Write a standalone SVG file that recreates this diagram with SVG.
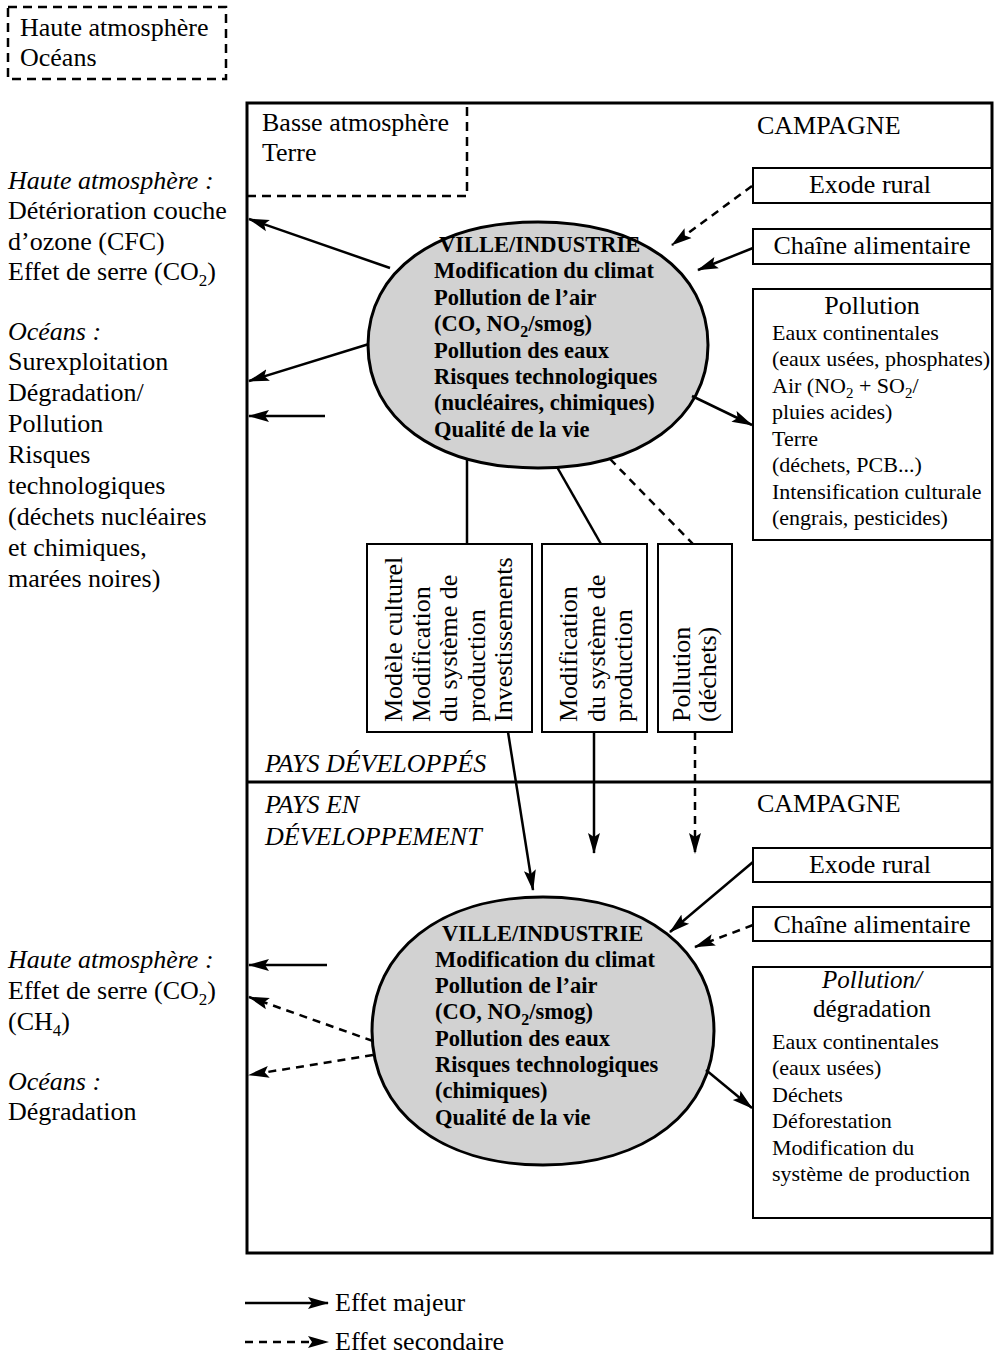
<svg xmlns="http://www.w3.org/2000/svg" width="996" height="1355" viewBox="0 0 996 1355">
<style>
text { font-family: "Liberation Serif", "Times New Roman", serif; fill: #000; }
.t26 { font-size: 26px; }
.t22 { font-size: 22px; }
.it { font-style: italic; }
.mid { text-anchor: middle; }
.el { font-size: 22.5px; font-weight: bold; }
.sub { font-size: 17px; }
.box { fill: #fff; stroke: #000; stroke-width: 2; }
.frame { fill: none; stroke: #000; stroke-width: 3; }
.dbox { fill: none; stroke: #000; stroke-width: 2.5; stroke-dasharray: 9 6; }
.ell { fill: #d2d2d2; stroke: #000; stroke-width: 3; }
.c { fill: none; stroke: #000; stroke-width: 2.5; }
.cd { stroke-dasharray: 8 6; }
</style>
<defs>
<marker id="ah" markerWidth="22" markerHeight="14" refX="20" refY="7" orient="auto" markerUnits="userSpaceOnUse">
<path d="M0,1 L21,7 L0,13 L4,7 z" fill="#000"/>
</marker>
</defs>

<g id="frame">
<rect class="frame" x="247" y="103" width="745" height="1150"/>
<line x1="247" y1="782" x2="992" y2="782" stroke="#000" stroke-width="3"/>
</g>

<g id="legend-haute-oceans">
<rect class="dbox" x="8" y="7" width="218" height="72"/>
<text class="t26" x="20" y="36">Haute atmosphère</text>
<text class="t26" x="20" y="66">Océans</text>
</g>

<g id="legend-basse-terre">
<path class="dbox" d="M247,196 H467 V103"/>
<text class="t26" x="262" y="131">Basse atmosphère</text>
<text class="t26" x="262" y="161">Terre</text>
</g>

<g id="label-campagne-top"><text class="t26" x="757" y="134">CAMPAGNE</text></g>
<g id="label-campagne-bottom"><text class="t26" x="757" y="812">CAMPAGNE</text></g>
<g id="label-pays-dev"><text class="t26 it" x="265" y="772">PAYS DÉVELOPPÉS</text></g>
<g id="label-pays-en-dev">
<text class="t26 it" x="265" y="813">PAYS EN</text>
<text class="t26 it" x="265" y="845">DÉVELOPPEMENT</text>
</g>

<g id="left-top-text">
<text class="t26 it" x="8" y="189">Haute atmosphère :</text>
<text class="t26" x="8" y="219">Détérioration couche</text>
<text class="t26" x="8" y="250">d’ozone (CFC)</text>
<text class="t26" x="8" y="280">Effet de serre (CO<tspan class="sub" dy="6">2</tspan><tspan dy="-6">)</tspan></text>
<text class="t26 it" x="8" y="340">Océans :</text>
<text class="t26" x="8" y="370">Surexploitation</text>
<text class="t26" x="8" y="401">Dégradation/</text>
<text class="t26" x="8" y="432">Pollution</text>
<text class="t26" x="8" y="463">Risques</text>
<text class="t26" x="8" y="494">technologiques</text>
<text class="t26" x="8" y="525">(déchets nucléaires</text>
<text class="t26" x="8" y="556">et chimiques,</text>
<text class="t26" x="8" y="587">marées noires)</text>
</g>

<g id="left-bottom-text">
<text class="t26 it" x="8" y="968">Haute atmosphère :</text>
<text class="t26" x="8" y="999">Effet de serre (CO<tspan class="sub" dy="6">2</tspan><tspan dy="-6">)</tspan></text>
<text class="t26" x="8" y="1030">(CH<tspan class="sub" dy="6">4</tspan><tspan dy="-6">)</tspan></text>
<text class="t26 it" x="8" y="1090">Océans :</text>
<text class="t26" x="8" y="1120">Dégradation</text>
</g>

<g id="exode-top">
<rect class="box" x="753" y="168" width="239" height="35"/>
<text class="t26 mid" x="870" y="193">Exode rural</text>
</g>
<g id="chaine-top">
<rect class="box" x="753" y="229" width="239" height="35"/>
<text class="t26 mid" x="872" y="254">Chaîne alimentaire</text>
</g>
<g id="pollution-top">
<rect class="box" x="753" y="289" width="239" height="251"/>
<text class="t26 mid" x="872" y="314">Pollution</text>
<text class="t22" x="772" y="340">Eaux continentales</text>
<text class="t22" x="772" y="366">(eaux usées, phosphates)</text>
<text class="t22" x="772" y="393">Air (NO<tspan font-size="15" dy="5">2</tspan><tspan dy="-5"> + SO</tspan><tspan font-size="15" dy="5">2</tspan><tspan dy="-5">/</tspan></text>
<text class="t22" x="772" y="419">pluies acides)</text>
<text class="t22" x="772" y="446">Terre</text>
<text class="t22" x="772" y="472">(déchets, PCB...)</text>
<text class="t22" x="772" y="499">Intensification culturale</text>
<text class="t22" x="772" y="525">(engrais, pesticides)</text>
</g>

<g id="ville-top">
<path class="ell" d="M368,345 C368,271.2 436,222 538,222 C640,222 708,271.2 708,345 C708,418.8 640,468 538,468 C436,468 368,418.8 368,345 Z"/>
<text class="el" x="439" y="252">VILLE/INDUSTRIE</text>
<text class="el" x="434" y="278">Modification du climat</text>
<text class="el" x="434" y="305">Pollution de l’air</text>
<text class="el" x="434" y="331">(CO, NO<tspan font-size="16" dy="6">2</tspan><tspan dy="-6">/smog)</tspan></text>
<text class="el" x="434" y="358">Pollution des eaux</text>
<text class="el" x="434" y="384">Risques technologiques</text>
<text class="el" x="434" y="410">(nucléaires, chimiques)</text>
<text class="el" x="434" y="437">Qualité de la vie</text>
</g>

<g id="box-modele">
<rect class="box" x="367" y="544" width="165" height="188"/>
<text class="t26" transform="translate(402,722) rotate(-90)">Modèle culturel</text>
<text class="t26" transform="translate(429.5,722) rotate(-90)">Modification</text>
<text class="t26" transform="translate(457,722) rotate(-90)">du système de</text>
<text class="t26" transform="translate(484.5,722) rotate(-90)">production</text>
<text class="t26" transform="translate(512,722) rotate(-90)">Investissements</text>
</g>
<g id="box-modif">
<rect class="box" x="542" y="544" width="105" height="188"/>
<text class="t26" transform="translate(577,722) rotate(-90)">Modification</text>
<text class="t26" transform="translate(604.5,722) rotate(-90)">du système de</text>
<text class="t26" transform="translate(632,722) rotate(-90)">production</text>
</g>
<g id="box-dechets">
<rect class="box" x="658" y="544" width="74" height="188"/>
<text class="t26" transform="translate(690,722) rotate(-90)">Pollution</text>
<text class="t26" transform="translate(716,722) rotate(-90)">(déchets)</text>
</g>

<g id="exode-bottom">
<rect class="box" x="753" y="848" width="239" height="34"/>
<text class="t26 mid" x="870" y="873">Exode rural</text>
</g>
<g id="chaine-bottom">
<rect class="box" x="753" y="907" width="239" height="34"/>
<text class="t26 mid" x="872" y="933">Chaîne alimentaire</text>
</g>
<g id="pollution-bottom">
<rect class="box" x="753" y="967" width="239" height="251"/>
<text class="mid it" style="font-size:25px" x="872" y="988">Pollution/</text>
<text class="mid" style="font-size:25px" x="872" y="1017">dégradation</text>
<text class="t22" x="772" y="1049">Eaux continentales</text>
<text class="t22" x="772" y="1075">(eaux usées)</text>
<text class="t22" x="772" y="1102">Déchets</text>
<text class="t22" x="772" y="1128">Déforestation</text>
<text class="t22" x="772" y="1155">Modification du</text>
<text class="t22" x="772" y="1181">système de production</text>
</g>

<g id="ville-bottom">
<path class="ell" d="M372,1031 C372,950.6 440.4,897 543,897 C645.6,897 714,950.6 714,1031 C714,1111.4 645.6,1165 543,1165 C440.4,1165 372,1111.4 372,1031 Z"/>
<text class="el" x="442" y="941">VILLE/INDUSTRIE</text>
<text class="el" x="435" y="967">Modification du climat</text>
<text class="el" x="435" y="993">Pollution de l’air</text>
<text class="el" x="435" y="1019">(CO, NO<tspan font-size="16" dy="6">2</tspan><tspan dy="-6">/smog)</tspan></text>
<text class="el" x="435" y="1046">Pollution des eaux</text>
<text class="el" x="435" y="1072">Risques technologiques</text>
<text class="el" x="435" y="1098">(chimiques)</text>
<text class="el" x="435" y="1125">Qualité de la vie</text>
</g>

<g id="connectors">
<line class="c" x1="390" y1="268" x2="249" y2="219" marker-end="url(#ah)"/>
<line class="c" x1="369" y1="344" x2="249" y2="381" marker-end="url(#ah)"/>
<line class="c" x1="325" y1="416" x2="249" y2="416" marker-end="url(#ah)"/>
<line class="c cd" x1="752" y1="186" x2="672" y2="245" marker-end="url(#ah)"/>
<line class="c" x1="753" y1="248" x2="698" y2="270" marker-end="url(#ah)"/>
<line class="c" x1="692" y1="396" x2="752" y2="425" marker-end="url(#ah)"/>
<line class="c" x1="467" y1="459" x2="467" y2="544"/>
<line class="c" x1="557" y1="467" x2="601" y2="544"/>
<line class="c cd" x1="610" y1="459" x2="693" y2="544"/>
<line class="c" x1="508" y1="732" x2="533" y2="890" marker-end="url(#ah)"/>
<line class="c" x1="594" y1="732" x2="594" y2="853" marker-end="url(#ah)"/>
<line class="c cd" x1="695" y1="732" x2="695" y2="853" marker-end="url(#ah)"/>
<line class="c" x1="753" y1="862" x2="670" y2="932" marker-end="url(#ah)"/>
<line class="c cd" x1="753" y1="925" x2="695" y2="947" marker-end="url(#ah)"/>
<line class="c" x1="706" y1="1070" x2="752" y2="1108" marker-end="url(#ah)"/>
<line class="c" x1="327" y1="965" x2="249" y2="965" marker-end="url(#ah)"/>
<line class="c cd" x1="373" y1="1041" x2="249" y2="997" marker-end="url(#ah)"/>
<line class="c cd" x1="373" y1="1055" x2="249" y2="1075" marker-end="url(#ah)"/>
</g>

<g id="legend">
<line class="c" x1="245" y1="1303" x2="328" y2="1303" marker-end="url(#ah)"/>
<text class="t26" x="335" y="1311">Effet majeur</text>
<line class="c cd" x1="245" y1="1342" x2="328" y2="1342" marker-end="url(#ah)"/>
<text class="t26" x="335" y="1350">Effet secondaire</text>
</g>
</svg>
